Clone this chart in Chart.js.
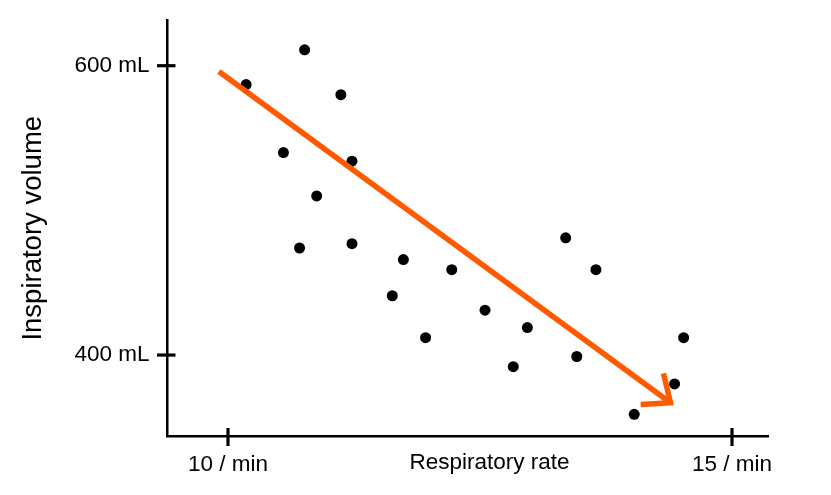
<!DOCTYPE html>
<html>
<head>
<meta charset="utf-8">
<script src="https://cdn.jsdelivr.net/npm/chart.js@4/dist/chart.umd.min.js"></script>
<style>
  html, body { margin: 0; padding: 0; background: #fff; }
  #wrap { width: 831px; height: 495px; position: relative; }
</style>
</head>
<body>
<div id="wrap"><canvas id="c"></canvas></div>
<script>
// Data
const rates   = [10.18, 10.76, 11.12, 10.55, 11.23, 10.88, 10.71, 11.23, 11.74, 12.22, 11.63,
                 11.96, 13.35, 13.65, 12.55, 12.97, 14.52, 13.46, 12.83, 14.43, 14.03];
const volumes = [587, 611, 580, 540, 534, 510, 474, 477, 466, 459, 441,
                 412, 481, 459, 431, 419, 412, 399, 392, 380, 359];

// Trend arrow (shaft and head), in data units
const arrowShaftX = [9.91, 14.39];
const arrowShaftY = [596, 367];
const arrowHeadX  = [14.32, 14.39, 14.094];
const arrowHeadY  = [387.3, 367, 365.9];

const xTickValues = [10, 15];
const xTickLabels = ['10 / min', '15 / min'];
const yTickValues = [400, 600];
const yTickLabels = ['400 mL', '600 mL'];

const xTitle = 'Respiratory rate';
const yTitle = 'Inspiratory volume';

const toPts = (xs, ys) => xs.map((x, i) => ({ x: x, y: ys[i] }));

const FONT = '"Liberation Sans", Arial, Helvetica, sans-serif';
const ORANGE = '#ff5a00';

const crossTicks = {
  id: 'crossTicks',
  afterDraw(chart) {
    const ctx = chart.ctx;
    const xs = chart.scales.x, ys = chart.scales.y;
    const ca = chart.chartArea;
    ctx.save();
    ctx.strokeStyle = '#000';
    ctx.lineWidth = 3.2;
    xTickValues.forEach(v => {
      const px = xs.getPixelForValue(v);
      ctx.beginPath();
      ctx.moveTo(px, ca.bottom - 8.5);
      ctx.lineTo(px, ca.bottom + 9.5);
      ctx.stroke();
    });
    yTickValues.forEach(v => {
      const py = ys.getPixelForValue(v);
      ctx.beginPath();
      ctx.moveTo(ca.left - 10.5, py);
      ctx.lineTo(ca.left + 8, py);
      ctx.stroke();
    });
    // x-axis title, placed on the same row as the tick labels
    ctx.fillStyle = '#000';
    ctx.font = '22.5px ' + FONT;
    ctx.textAlign = 'center';
    ctx.textBaseline = 'middle';
    ctx.fillText(xTitle, 489.5, 463);
    ctx.restore();
  }
};

new Chart(document.getElementById('c'), {
  type: 'scatter',
  data: {
    datasets: [
      {
        data: toPts(arrowHeadX, arrowHeadY),
        showLine: true,
        borderColor: ORANGE,
        borderWidth: 5.5,
        borderJoinStyle: 'miter',
        borderCapStyle: 'butt',
        pointRadius: 0,
        pointHoverRadius: 0,
        order: 0
      },
      {
        data: toPts(arrowShaftX, arrowShaftY),
        showLine: true,
        borderColor: ORANGE,
        borderWidth: 5.5,
        borderCapStyle: 'butt',
        pointRadius: 0,
        pointHoverRadius: 0,
        order: 1
      },
      {
        data: toPts(rates, volumes),
        backgroundColor: '#000',
        borderColor: '#000',
        borderWidth: 0,
        pointRadius: 5.5,
        pointHoverRadius: 5.5,
        order: 2
      }
    ]
  },
  options: {
    responsive: true,
    maintainAspectRatio: false,
    animation: false,
    events: [],
    layout: { padding: { left: 0, top: 20, right: 63, bottom: 0 } },
    plugins: {
      legend: { display: false },
      tooltip: { enabled: false },
      title: { display: false }
    },
    scales: {
      x: {
        type: 'linear',
        min: 9.40,
        max: 15.357,
        afterBuildTicks(scale) { scale.ticks = xTickValues.map(v => ({ value: v })); },
        afterFit(scale) { scale.height = 58.5; scale.paddingLeft = 0; scale.paddingRight = 0; },
        grid: { display: false, drawTicks: false, tickLength: 0 },
        border: { display: true, color: '#000', width: 2.5 },
        ticks: {
          color: '#000',
          padding: 15,
          maxRotation: 0,
          autoSkip: false,
          font: { family: FONT, size: 22.5 },
          callback(v) { const i = xTickValues.indexOf(v); return i >= 0 ? xTickLabels[i] : ''; }
        },
        title: { display: false }
      },
      y: {
        type: 'linear',
        min: 343.7,
        max: 631.6,
        afterBuildTicks(scale) { scale.ticks = yTickValues.map(v => ({ value: v })); },
        afterFit(scale) { scale.width = 167.5; scale.paddingTop = 0; scale.paddingBottom = 0; },
        grid: { display: false, drawTicks: false, tickLength: 0 },
        border: { display: true, color: '#000', width: 2.5 },
        ticks: {
          color: '#000',
          padding: 18,
          autoSkip: false,
          font: { family: FONT, size: 22.5 },
          callback(v) { const i = yTickValues.indexOf(v); return i >= 0 ? yTickLabels[i] : ''; }
        },
        title: {
          display: true,
          text: yTitle,
          color: '#000',
          font: { family: FONT, size: 27.5 },
          padding: { top: 16.5, bottom: 0 }
        }
      }
    }
  },
  plugins: [crossTicks]
});
</script>
</body>
</html>
